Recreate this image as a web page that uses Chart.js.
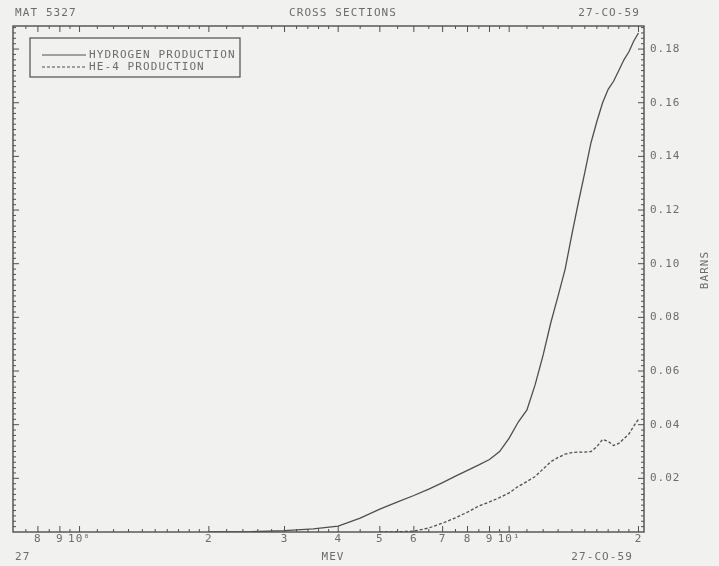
<!DOCTYPE html>
<html>
<head>
<meta charset="utf-8">
<title>Cross Sections 27-CO-59</title>
<script src="https://cdn.jsdelivr.net/npm/chart.js@4.4.1/dist/chart.umd.min.js"></script>
<style>
    html, body { margin: 0; padding: 0; background: #f1f1ef; }
    #wrap { width: 719px; height: 566px; }
</style>
</head>
<body>
<div id="wrap"><canvas id="xsGraph" width="719" height="566"></canvas></div>
<script>
// Hydrogen production cross section (MeV, barns)
const hydrogenEnergy = [2.0, 2.5, 3.0, 3.5, 4.0, 4.5, 5.0, 5.5, 6.0, 6.5, 7.0, 7.5, 8.0, 8.5, 9.0, 9.5,
    10.0, 10.5, 11.0, 11.5, 12.0, 12.5, 13.0, 13.5, 14.0, 14.5, 15.0, 15.5, 16.0, 16.5, 17.0, 17.5,
    18.0, 18.5, 19.0, 19.5, 20.0];
const hydrogenBarns = [0, 0.0001, 0.0005, 0.0012, 0.0022, 0.0052, 0.0085, 0.0112, 0.0136, 0.0160, 0.0184, 0.0208,
    0.0230, 0.0250, 0.0270, 0.0300, 0.0350, 0.0410, 0.0455, 0.0550, 0.0660, 0.0780, 0.0880, 0.0980,
    0.1110, 0.1230, 0.1340, 0.1450, 0.1530, 0.1600, 0.1650, 0.1680, 0.1720, 0.1760, 0.1790, 0.1830, 0.1860];

// He-4 production cross section (MeV, barns)
const heliumEnergy = [5.0, 5.5, 6.0, 6.5, 7.0, 7.5, 8.0, 8.5, 9.0, 9.5, 10.0, 10.5, 11.0, 11.5, 12.0, 12.5,
    13.0, 13.5, 14.0, 14.5, 15.0, 15.5, 16.0, 16.5, 17.0, 17.5, 18.0, 18.5, 19.0, 19.5, 20.0];
const heliumBarns = [0, 0.0001, 0.0003, 0.0015, 0.0033, 0.0053, 0.0074, 0.0097, 0.0112, 0.0128, 0.0146, 0.0170,
    0.0188, 0.0207, 0.0235, 0.0262, 0.0278, 0.0290, 0.0296, 0.0298, 0.0298, 0.0300, 0.0318, 0.0345,
    0.0338, 0.0322, 0.0330, 0.0348, 0.0365, 0.0395, 0.0420];

// Axis ticks
const xTickValues = [0.8, 0.9, 1, 2, 3, 4, 5, 6, 7, 8, 9, 10, 20];
const xTickLabels = ['8', '9', '10\u2070', '2', '3', '4', '5', '6', '7', '8', '9', '10\u00b9', '2'];
const xMinorTicks = [0.75, 0.85, 0.95, 1.1, 1.2, 1.3, 1.4, 1.5, 1.6, 1.7, 1.8, 1.9, 2.2, 2.4, 2.6, 2.8,
    3.2, 3.4, 3.6, 3.8, 4.5, 5.5, 6.5, 7.5, 8.5, 9.5, 11, 12, 13, 14, 15, 16, 17, 18, 19];
const yTickValues = [0.02, 0.04, 0.06, 0.08, 0.10, 0.12, 0.14, 0.16, 0.18];
const yMinorStep = 0.002;

const INK = '#4f4f4f';
const TEXT = '#6c6c6c';
const FONT = '"DejaVu Sans Mono", "Liberation Mono", monospace';

let chart;

// Plotter style frame, tick marks, header/footer text and legend box
const plotterFrame = {

    id: 'plotterFrame',
    beforeDraw(c) {

        const ctx = c.ctx;
        ctx.save();
        ctx.fillStyle = '#f1f1ef';
        ctx.fillRect(0, 0, c.width, c.height);
        ctx.restore();
        ctx.letterSpacing = '1px';
    },
    afterDraw(c) {

        const ctx = c.ctx;
        const a = c.chartArea;
        const xs = c.scales.x;
        const ys = c.scales.y;

        ctx.save();
        ctx.strokeStyle = INK;
        ctx.lineWidth = 1.4;
        ctx.strokeRect(a.left, a.top, a.right - a.left, a.bottom - a.top);

        // y tick marks on both sides
        ctx.lineWidth = 1;
        const nMinor = Math.floor(ys.max / yMinorStep);
        for (let i = 1; i <= nMinor; i++) {

            const py = ys.getPixelForValue(i * yMinorStep);
            const len = (i % 10 === 0) ? 6 : 3;
            ctx.beginPath();
            ctx.moveTo(a.left, py); ctx.lineTo(a.left + len, py);
            ctx.moveTo(a.right, py); ctx.lineTo(a.right - len, py);
            ctx.stroke();
        }

        // x tick marks top and bottom
        const drawXTick = (v, len) => {

            const px = xs.getPixelForValue(v);
            ctx.beginPath();
            ctx.moveTo(px, a.bottom); ctx.lineTo(px, a.bottom - len);
            ctx.moveTo(px, a.top); ctx.lineTo(px, a.top + len);
            ctx.stroke();
        };
        xTickValues.forEach(v => drawXTick(v, 6));
        xMinorTicks.forEach(v => drawXTick(v, 3));

        // header and footer text
        ctx.fillStyle = TEXT;
        ctx.font = '11px ' + FONT;
        ctx.letterSpacing = '1.1px';
        ctx.textBaseline = 'middle';
        ctx.textAlign = 'left';
        ctx.fillText('MAT 5327', 15, 13);
        ctx.fillText('27', 15, 557);
        ctx.textAlign = 'center';
        ctx.fillText('CROSS SECTIONS', 343, 13);
        ctx.fillText('MEV', 333, 557);
        ctx.textAlign = 'right';
        ctx.fillText('27-CO-59', 640, 13);
        ctx.fillText('27-CO-59', 633, 557);

        // y axis title, reading upwards
        ctx.save();
        ctx.translate(705, 270);
        ctx.rotate(-Math.PI / 2);
        ctx.textAlign = 'center';
        ctx.fillText('BARNS', 0, 0);
        ctx.restore();

        // legend box
        ctx.lineWidth = 1.2;
        ctx.strokeRect(30, 38, 210, 39);
        ctx.textAlign = 'left';
        const items = c.data.datasets;
        items.forEach((ds, i) => {

            const ly = 55 + i * 12;
            ctx.strokeStyle = INK;
            ctx.lineWidth = 1.2;
            ctx.setLineDash(ds.borderDash || []);
            ctx.beginPath();
            ctx.moveTo(42, ly); ctx.lineTo(86, ly);
            ctx.stroke();
            ctx.setLineDash([]);
            ctx.fillText(ds.label, 89, ly);
        });
        ctx.restore();
    }
};

// Function to initialize the chart
function initializeChart() {

    const ctx = document.getElementById('xsGraph').getContext('2d');

    chart = new Chart(ctx, {

        type: 'scatter',
        data: {

            datasets: [{

                label: 'HYDROGEN PRODUCTION',
                data: hydrogenEnergy.map((e, i) => ({ x: e, y: hydrogenBarns[i] })),
                showLine: true,
                borderColor: INK,
                borderWidth: 1.3,
                pointRadius: 0,
                tension: 0
            }, {

                label: 'HE-4 PRODUCTION',
                data: heliumEnergy.map((e, i) => ({ x: e, y: heliumBarns[i] })),
                showLine: true,
                borderColor: INK,
                borderWidth: 1.3,
                borderDash: [3, 2],
                pointRadius: 0,
                tension: 0
            }]
        },
        options: {

            responsive: false,
            animation: false,
            devicePixelRatio: 1,
            layout: { padding: { left: 13, top: 26, right: 0, bottom: 0 } },
            plugins: {

                legend: { display: false },
                tooltip: { enabled: false }
            },
            scales: {

                x: {

                    type: 'logarithmic',
                    position: 'bottom',
                    min: 0.736,
                    max: 20.6,
                    afterBuildTicks: scale => { scale.ticks = xTickValues.map(v => ({ value: v })); },
                    afterFit: scale => { scale.height = 34; },
                    ticks: {

                        autoSkip: false,
                        maxRotation: 0,
                        padding: 1,
                        color: TEXT,
                        font: { family: FONT, size: 11 },
                        callback: (value, index) => xTickLabels[index]
                    },
                    grid: { display: false, drawTicks: false },
                    border: { display: false }
                },
                y: {

                    type: 'linear',
                    position: 'right',
                    min: 0,
                    max: 0.1886,
                    afterBuildTicks: scale => { scale.ticks = yTickValues.map(v => ({ value: v })); },
                    afterFit: scale => { scale.width = 75; },
                    ticks: {

                        padding: 6,
                        color: TEXT,
                        font: { family: FONT, size: 11 },
                        callback: value => value.toFixed(2)
                    },
                    grid: { display: false, drawTicks: false },
                    border: { display: false }
                }
            }
        },
        plugins: [plotterFrame]
    });
}

window.onload = function () {

    initializeChart();
};
</script>
</body>
</html>
